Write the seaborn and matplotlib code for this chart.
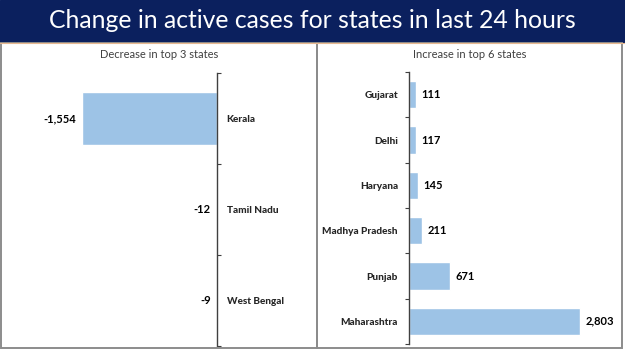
import matplotlib
matplotlib.use("Agg")
import matplotlib.pyplot as plt
from matplotlib.patches import Rectangle
import seaborn as sns
import pandas as pd

# data
dec_states = ["Kerala", "Tamil Nadu", "West Bengal"]
dec_values = [-1554, -12, -9]

inc_states = ["Gujarat", "Delhi", "Haryana", "Madhya Pradesh", "Punjab", "Maharashtra"]
inc_values = [111, 117, 145, 211, 671, 2803]

TITLE = "Change in active cases for states in last 24 hours"
BAR = "#9dc3e6"
NAVY = "#0b205e"

W, H = 625, 351


def fx(px):
    return px / W


def fy(py):
    return 1 - py / H


def main():
    sns.set_theme(style="white")
    plt.rcParams["font.family"] = ["Lato", "DejaVu Sans"]

    fig = plt.figure(figsize=(6.25, 3.51), dpi=100)

    # title band
    fig.add_artist(Rectangle((0, fy(42)), 1, 1 - fy(42), transform=fig.transFigure,
                             color=NAVY, zorder=0))
    fig.add_artist(plt.Line2D([0, 1], [fy(42.5), fy(42.5)], transform=fig.transFigure,
                              color="#e8b890", lw=0.8))
    fig.text(0.5, fy(21), TITLE, color="white", fontsize=17.8, ha="center", va="center")

    # panel frames
    for x0, x1 in [(1.5, 317), (317, 622)]:
        fig.add_artist(Rectangle((fx(x0), fy(348)), fx(x1) - fx(x0), fy(43) - fy(348),
                                 transform=fig.transFigure, fill=False,
                                 edgecolor="#8c8c8c", lw=1.4))

    fig.text(fx(159), fy(55), "Decrease in top 3 states", fontsize=8,
             ha="center", va="center", color="#404040")
    fig.text(fx(470), fy(55), "Increase in top 6 states", fontsize=8,
             ha="center", va="center", color="#404040")

    # left panel: decreases
    dec = pd.DataFrame({"state": dec_states, "value": dec_values})
    ax1 = fig.add_axes([fx(20), fy(346), fx(217) - fx(20), fy(73) - fy(346)])
    sns.barplot(data=dec, y="state", x="value", orient="h", color=BAR,
                width=0.58, saturation=1, ax=ax1)
    ax1.set_xlim(-2267, 0)
    ax1.set_ylim(len(dec_states) - 0.5, -0.5)
    ax1.bar_label(ax1.containers[0], labels=[f"{v:,}" for v in dec_values],
                  padding=4, fontsize=8, fontweight="bold", color="black")
    for s in ["top", "bottom", "left"]:
        ax1.spines[s].set_visible(False)
    ax1.spines["right"].set_color("#404040")
    ax1.spines["right"].set_linewidth(1)
    ax1.set_xticks([])
    ax1.yaxis.tick_right()
    ax1.set_yticks([i - 0.5 for i in range(len(dec_states) + 1)])
    ax1.set_yticklabels([])
    ax1.set_yticks(range(len(dec_states)), minor=True)
    ax1.set_yticklabels(dec_states, minor=True)
    ax1.tick_params(axis="y", which="major", direction="out", length=3, width=0.8,
                    color="#404040", right=True, left=False)
    ax1.tick_params(axis="y", which="minor", length=0, pad=7, right=True, left=False)
    for lab in ax1.get_yticklabels(minor=True):
        lab.set_fontweight("black")
        lab.set_fontsize(7.2)
    ax1.set_xlabel("")
    ax1.set_ylabel("")
    ax1.patch.set_alpha(0)

    # right panel: increases
    inc = pd.DataFrame({"state": inc_states, "value": inc_values})
    ax2 = fig.add_axes([fx(409), fy(344), fx(600) - fx(409), fy(72) - fy(344)])
    sns.barplot(data=inc, y="state", x="value", orient="h", color=BAR,
                width=0.6, saturation=1, ax=ax2)
    ax2.set_xlim(0, 3130)
    ax2.set_ylim(len(inc_states) - 0.5, -0.5)
    ax2.bar_label(ax2.containers[0], labels=[f"{v:,}" for v in inc_values],
                  padding=4, fontsize=8, fontweight="bold", color="black")
    for s in ["top", "bottom", "right"]:
        ax2.spines[s].set_visible(False)
    ax2.spines["left"].set_color("#404040")
    ax2.spines["left"].set_linewidth(1)
    ax2.set_xticks([])
    ax2.set_yticks([i - 0.5 for i in range(len(inc_states) + 1)])
    ax2.set_yticklabels([])
    ax2.set_yticks(range(len(inc_states)), minor=True)
    ax2.set_yticklabels(inc_states, minor=True)
    ax2.tick_params(axis="y", which="major", direction="out", length=3, width=0.8,
                    color="#404040", left=True)
    ax2.tick_params(axis="y", which="minor", length=0, pad=8, left=True)
    for lab in ax2.get_yticklabels(minor=True):
        lab.set_fontweight("black")
        lab.set_fontsize(7.2)
    ax2.set_xlabel("")
    ax2.set_ylabel("")
    ax2.patch.set_alpha(0)

    fig.savefig("out.png", dpi=100, facecolor="white")
    plt.close(fig)


if __name__ == "__main__":
    main()
